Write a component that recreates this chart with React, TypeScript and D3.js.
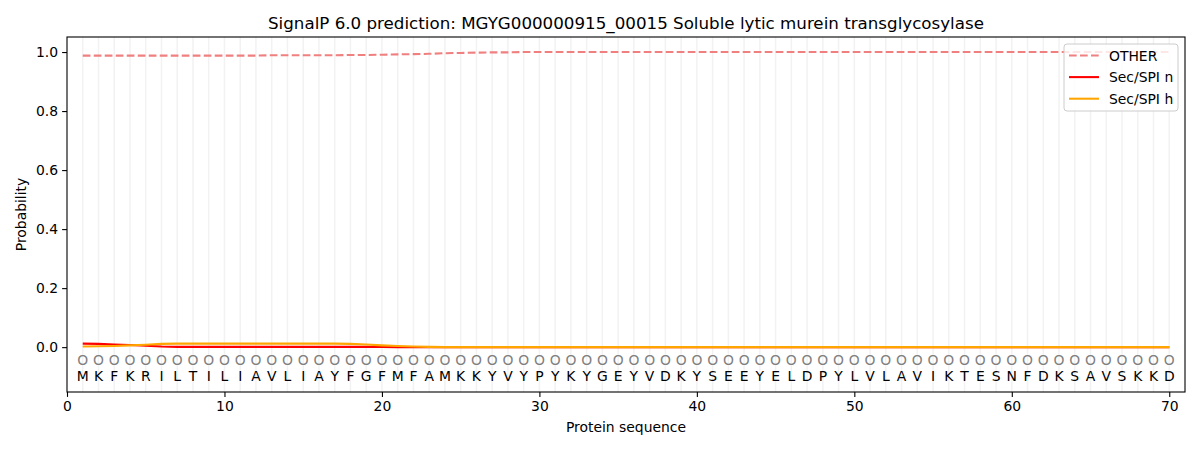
import React, { useEffect, useRef } from 'react';
import * as d3 from 'd3';

// residues of the protein, position 1..70
const sequence = 'MKFKRILTILIAVLIAYFGFMFAMKKYVYPYKYGEYVDKYSEEYELDPYLVLAVIKTESNFDKSAVSKKD'.split('');

const otherProb = [
  0.988, 0.988, 0.988, 0.988, 0.988, 0.988, 0.988, 0.988, 0.988, 0.988,
  0.988, 0.988, 0.989, 0.989, 0.989, 0.989, 0.989, 0.990, 0.990, 0.991,
  0.992, 0.993, 0.994, 0.996, 0.997, 0.998, 0.999, 0.999, 1.0, 1.0,
  1.0, 1.0, 1.0, 1.0, 1.0, 1.0, 1.0, 1.0, 1.0, 1.0,
  1.0, 1.0, 1.0, 1.0, 1.0, 1.0, 1.0, 1.0, 1.0, 1.0,
  1.0, 1.0, 1.0, 1.0, 1.0, 1.0, 1.0, 1.0, 1.0, 1.0,
  1.0, 1.0, 1.0, 1.0, 1.0, 1.0, 1.0, 1.0, 1.0, 1.0,
];

const secSpiN = [
  0.012, 0.011, 0.009, 0.007, 0.005, 0.002, 0.001, 0.001, 0.001, 0.001,
  0.001, 0.001, 0.001, 0.001, 0.001, 0.001, 0.001, 0.001, 0.001, 0.001,
  0.0, 0.0, 0.0, 0.0, 0.0, 0.0, 0.0, 0.0, 0.0, 0.0,
  0.0, 0.0, 0.0, 0.0, 0.0, 0.0, 0.0, 0.0, 0.0, 0.0,
  0.0, 0.0, 0.0, 0.0, 0.0, 0.0, 0.0, 0.0, 0.0, 0.0,
  0.0, 0.0, 0.0, 0.0, 0.0, 0.0, 0.0, 0.0, 0.0, 0.0,
  0.0, 0.0, 0.0, 0.0, 0.0, 0.0, 0.0, 0.0, 0.0, 0.0,
];

const secSpiH = [
  0.002, 0.003, 0.004, 0.006, 0.008, 0.011, 0.012, 0.012, 0.012, 0.012,
  0.012, 0.012, 0.012, 0.012, 0.012, 0.012, 0.012, 0.011, 0.009, 0.006,
  0.004, 0.002, 0.001, 0.0, 0.0, 0.0, 0.0, 0.0, 0.0, 0.0,
  0.0, 0.0, 0.0, 0.0, 0.0, 0.0, 0.0, 0.0, 0.0, 0.0,
  0.0, 0.0, 0.0, 0.0, 0.0, 0.0, 0.0, 0.0, 0.0, 0.0,
  0.0, 0.0, 0.0, 0.0, 0.0, 0.0, 0.0, 0.0, 0.0, 0.0,
  0.0, 0.0, 0.0, 0.0, 0.0, 0.0, 0.0, 0.0, 0.0, 0.0,
];

const xTicks = [0, 10, 20, 30, 40, 50, 60, 70];
const yTicks = [0.0, 0.2, 0.4, 0.6, 0.8, 1.0];

const series = [
  { name: 'OTHER', values: otherProb, color: '#f08080', dash: '7.7,3.3' },
  { name: 'Sec/SPI n', values: secSpiN, color: '#ff0000', dash: null },
  { name: 'Sec/SPI h', values: secSpiH, color: '#ffa500', dash: null },
];

const FONT = 'DejaVu Sans, sans-serif';
const FS = '13.9px';

export default function App() {
  const svgRef = useRef<SVGSVGElement>(null);

  useEffect(() => {
    document.body.style.margin = '0';
    if (!svgRef.current) return;

    const svg = d3.select(svgRef.current);
    svg.selectAll('*').remove();

    const W = 1200;
    const H = 450;
    const margin = { top: 37, right: 15, bottom: 58, left: 67 };
    const width = W - margin.left - margin.right;
    const height = H - margin.top - margin.bottom;

    const x = d3.scaleLinear().domain([0, 71]).range([0, width]);
    const y = d3.scaleLinear().domain([-0.152, 1.051]).range([height, 0]);

    const g = svg.append('g').attr('transform', `translate(${margin.left},${margin.top})`);

    // vertical guide line at each residue
    g.selectAll('.grid')
      .data(sequence)
      .enter()
      .append('line')
      .attr('x1', (_, i) => x(i + 1))
      .attr('x2', (_, i) => x(i + 1))
      .attr('y1', 0)
      .attr('y2', height)
      .attr('stroke', '#f2f2f2')
      .attr('stroke-width', 1.5);

    // lines
    series.forEach(s => {
      const line = d3.line<number>()
        .x((_, i) => x(i + 1))
        .y(d => y(d));
      g.append('path')
        .datum(s.values)
        .attr('d', line)
        .attr('fill', 'none')
        .attr('stroke', s.color)
        .attr('stroke-width', 2.08)
        .attr('stroke-dasharray', s.dash)
        .attr('stroke-linejoin', 'round');
    });

    // residue labels
    g.selectAll('.circ')
      .data(sequence)
      .enter()
      .append('text')
      .attr('x', (_, i) => x(i + 1))
      .attr('y', y(-0.045))
      .attr('text-anchor', 'middle')
      .attr('dominant-baseline', 'central')
      .attr('fill', '#808080')
      .attr('font-family', FONT)
      .attr('font-size', FS)
      .text('O');

    g.selectAll('.aa')
      .data(sequence)
      .enter()
      .append('text')
      .attr('x', (_, i) => x(i + 1))
      .attr('y', y(-0.099))
      .attr('text-anchor', 'middle')
      .attr('dominant-baseline', 'central')
      .attr('fill', '#000')
      .attr('font-family', FONT)
      .attr('font-size', FS)
      .text(d => d);

    // axes
    const xAxis = g.append('g')
      .attr('transform', `translate(0,${height})`)
      .call(d3.axisBottom(x).tickValues(xTicks).tickFormat(d3.format('d')).tickSize(4.9).tickPadding(4));
    const yAxis = g.append('g')
      .call(d3.axisLeft(y).tickValues(yTicks).tickFormat(d3.format('.1f')).tickSize(4.9).tickPadding(4));

    [xAxis, yAxis].forEach(a => {
      a.select('.domain').remove();
      a.selectAll('line').attr('stroke', '#000').attr('stroke-width', 1.1);
      a.selectAll('text')
        .attr('fill', '#000')
        .attr('font-family', FONT)
        .attr('font-size', FS);
    });

    // frame
    g.append('rect')
      .attr('width', width)
      .attr('height', height)
      .attr('fill', 'none')
      .attr('stroke', '#000')
      .attr('stroke-width', 1.1);

    // titles
    svg.append('text')
      .attr('x', margin.left + width / 2)
      .attr('y', 29)
      .attr('text-anchor', 'middle')
      .attr('font-family', FONT)
      .attr('font-size', '16.7px')
      .attr('fill', '#000')
      .text('SignalP 6.0 prediction: MGYG000000915_00015 Soluble lytic murein transglycosylase');

    svg.append('text')
      .attr('x', margin.left + width / 2)
      .attr('y', 432)
      .attr('text-anchor', 'middle')
      .attr('font-family', FONT)
      .attr('font-size', FS)
      .attr('fill', '#000')
      .text('Protein sequence');

    svg.append('text')
      .attr('transform', `translate(26,${margin.top + height / 2}) rotate(-90)`)
      .attr('text-anchor', 'middle')
      .attr('font-family', FONT)
      .attr('font-size', FS)
      .attr('fill', '#000')
      .text('Probability');

    // legend
    const legend = svg.append('g').attr('transform', 'translate(1064,44)');
    legend.append('rect')
      .attr('width', 114)
      .attr('height', 67)
      .attr('rx', 3)
      .attr('fill', 'rgba(255,255,255,0.8)')
      .attr('stroke', '#cccccc')
      .attr('stroke-width', 1);

    series.forEach((s, i) => {
      const cy = 11.5 + i * 21.6;
      legend.append('line')
        .attr('x1', 5)
        .attr('x2', 35)
        .attr('y1', cy)
        .attr('y2', cy)
        .attr('stroke', s.color)
        .attr('stroke-width', 2.08)
        .attr('stroke-dasharray', s.dash);
      legend.append('text')
        .attr('x', 45)
        .attr('y', cy)
        .attr('dominant-baseline', 'central')
        .attr('font-family', FONT)
        .attr('font-size', FS)
        .attr('fill', '#000')
        .text(s.name);
    });
  }, []);

  return <svg ref={svgRef} width={1200} height={450} style={{ display: 'block' }} />;
}
